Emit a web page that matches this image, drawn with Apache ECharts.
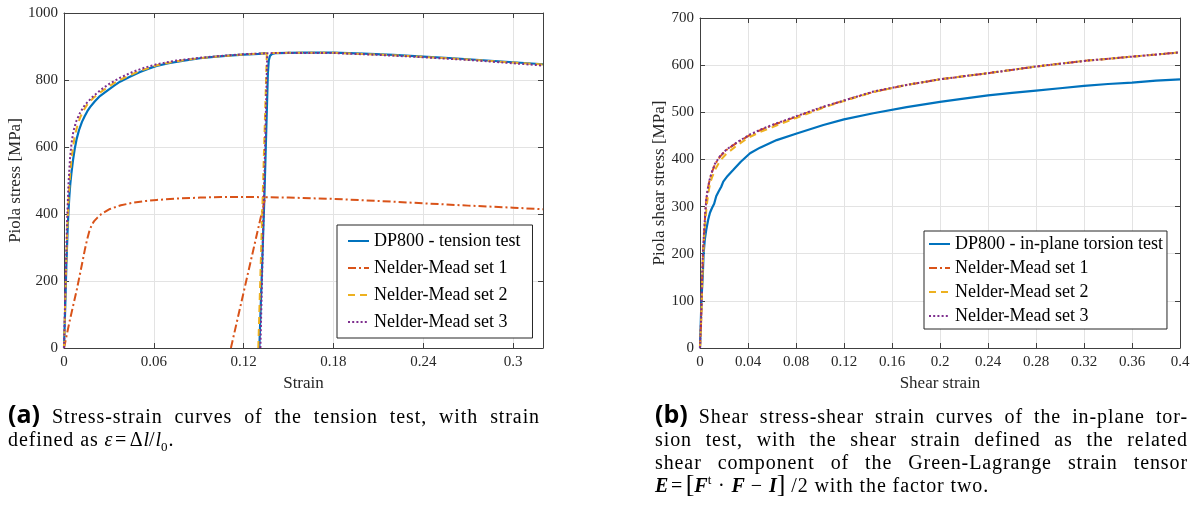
<!DOCTYPE html>
<html>
<head>
<meta charset="utf-8">
<script src="https://cdn.jsdelivr.net/npm/echarts@6/dist/echarts.min.js"></script>
<style>
  html, body { margin: 0; padding: 0; background: #fff; }
  #wrap { position: relative; width: 1196px; height: 507px; overflow: hidden; }
  #chart { position: absolute; left: 0; top: 0; width: 1196px; height: 507px; }
  .cap { position: absolute; font-family: "Liberation Serif", serif; font-size: 20px;
         letter-spacing: 0.9px; line-height: 23px; color: #000; white-space: nowrap; }
  .j { text-align: justify; text-align-last: justify; }
  .lbl { font-family: "Open Sans", sans-serif; font-weight: 700; font-size: 25px;
         line-height: 0; letter-spacing: 0; }
  .m { font-style: italic; letter-spacing: 0; }
  .bm { font-style: italic; font-weight: 700; letter-spacing: 0; }
  .br { font-size: 26px; line-height: 0; letter-spacing: 0; }
</style>
</head>
<body>
<div id="wrap">
  <div id="chart"></div>

  <div class="cap j" style="left:8px; top:405px; width:532px;"><span class="lbl">(a)</span> Stress-strain curves of the tension test, with strain</div>
  <div class="cap" style="left:8px; top:428px;">defined as <span class="m">ε</span>&#8202;=&#8202;Δ<span class="m">l</span>/<span class="m">l</span><sub style="font-size:13px;line-height:0;">0</sub>.</div>

  <div class="cap j" style="left:655px; top:405px; width:533px;"><span class="lbl">(b)</span> Shear stress-shear strain curves of the in-plane tor-</div>
  <div class="cap j" style="left:655px; top:428px; width:533px;">sion test, with the shear strain defined as the related</div>
  <div class="cap j" style="left:655px; top:451px; width:533px;">shear component of the Green-Lagrange strain tensor</div>
  <div class="cap" style="left:655px; top:474px;"><span class="bm">E</span>&#8202;=&#8202;<span class="br">[</span><span class="bm">F</span><sup style="font-size:13px;line-height:0;">t</sup> · <span class="bm">F</span> − <span class="bm">I</span><span class="br">]</span> /2 with the factor two.</div>
</div>

<script>
// ---- (a) tension test: strain vs Piola stress [MPa] ----
// '-' entries split the loading branch from the unloading/reloading branch.
const tensionTest = [
  [0,0],[0.0008,120],[0.0016,250],[0.0024,350],[0.003,410],[0.0036,455],[0.0042,490],
  [0.0049,520],[0.006,560],[0.0073,598],[0.0085,625],[0.01,650],[0.012,675],[0.0138,692],
  [0.0156,707],[0.0174,719],[0.0205,736],[0.024,752],[0.0294,770],[0.0335,783],[0.0374,795],
  [0.044,810],[0.0508,824],[0.0565,834],[0.0619,842],[0.07,850],[0.08,858],[0.0909,865],
  [0.1,869],[0.11,873],[0.12,876],[0.13,878],[0.1355,880],
  ['-','-'],
  [0.1305,0],[0.1338,442],[0.1362,820],[0.1368,858],[0.1376,872],[0.139,878],[0.142,880.5],
  [0.15,881],[0.16,881.5],[0.18,881.5],[0.2,879],[0.22,875],[0.24,870],[0.26,865],
  [0.28,859],[0.3,853],[0.32,847]
];
const tensionSet1 = [
  [0,0],[0.004,85],[0.0085,173],[0.012,250],[0.014,295],[0.0155,325],[0.017,350],
  [0.0185,367],[0.02,378],[0.0225,390],[0.025,400],[0.0307,415],[0.038,426],[0.0463,434],
  [0.055,439],[0.0619,442],[0.075,446],[0.0909,449],[0.105,451],[0.12,451],[0.1345,450],
  ['-','-'],
  [0.1115,0],[0.1345,450],[0.15,449],[0.18,445],[0.21,439],[0.24,432],[0.27,425],
  [0.3,419],[0.32,414]
];
const tensionSet2 = [
  [0,0],[0.001,170],[0.002,330],[0.003,440],[0.004,515],[0.005,565],[0.0062,605],[0.0073,635],
  [0.009,665],[0.0108,688],[0.0129,708],[0.016,730],[0.02,748],[0.024,762],[0.029,778],
  [0.034,792],[0.04,806],[0.05,826],[0.062,844],[0.075,856],[0.09,865],[0.105,871],
  [0.12,876],[0.1355,880],
  ['-','-'],
  [0.1298,0],[0.1355,880],[0.15,881],[0.18,881],[0.21,876],[0.24,869],[0.27,861],
  [0.3,852],[0.32,846]
];
const tensionSet3 = [
  [0,0],[0.001,190],[0.002,370],[0.003,490],[0.004,565],[0.005,610],[0.0062,645],[0.008,675],
  [0.0107,702],[0.014,726],[0.0196,752],[0.025,772],[0.0307,790],[0.038,808],[0.0463,825],
  [0.054,837],[0.0619,847],[0.075,858],[0.09,866],[0.105,872],[0.12,877],[0.1358,880],
  ['-','-'],
  [0.1312,0],[0.1358,880],[0.15,881],[0.18,880.5],[0.21,875],[0.24,868],[0.27,860],
  [0.3,850],[0.32,843]
];

// ---- (b) in-plane torsion test: shear strain vs Piola shear stress [MPa] ----
const torsionTest = [
  [0,0],[0.0012,100],[0.0024,160],[0.003,200],[0.004,230],[0.0053,252],[0.0068,272],
  [0.0083,287],[0.01,297],[0.0118,306],[0.0135,322],[0.0155,332],[0.0177,342],[0.0194,353],
  [0.023,365],[0.0278,378],[0.034,395],[0.0417,413],[0.05,425],[0.0639,441],[0.0806,455],
  [0.1028,473],[0.12,485],[0.1444,498],[0.1722,511],[0.2,522],[0.2167,528],[0.24,536],
  [0.26,541],[0.28,546],[0.3,551],[0.32,556],[0.34,560],[0.36,563],[0.38,567],[0.4,570]
];
const torsionSet1 = [
  [0,0],[0.0009,55],[0.0016,130],[0.0024,195],[0.0031,230],[0.0038,259],[0.0045,290],
  [0.0053,315],[0.0065,337],[0.008,356],[0.0097,371],[0.0125,390],[0.0167,406],[0.022,420],
  [0.0306,435],[0.0417,452],[0.0511,463],[0.0611,473],[0.0806,491],[0.1028,511],[0.12,525],
  [0.1444,543],[0.17,557],[0.2,570],[0.24,583],[0.28,597],[0.32,609],[0.36,618],[0.4,627]
];
const torsionSet2 = [
  [0,0],[0.001,55],[0.002,150],[0.003,215],[0.004,255],[0.0055,300],[0.007,330],[0.0085,350],
  [0.01,362],[0.013,380],[0.017,398],[0.022,412],[0.03,428],[0.04,446],[0.05,458],[0.06,468],
  [0.08,488],[0.1028,510],[0.12,524],[0.1444,543],[0.17,557],[0.2,570],[0.24,583],
  [0.28,597],[0.32,609],[0.36,618],[0.4,627]
];
const torsionSet3 = [
  [0,0],[0.0009,60],[0.0016,135],[0.0024,200],[0.0031,235],[0.0038,262],[0.0045,292],
  [0.0053,316],[0.0065,338],[0.008,357],[0.0097,372],[0.0125,391],[0.0167,407],[0.022,421],
  [0.0306,436],[0.0417,453],[0.0511,464],[0.0611,474],[0.0806,492],[0.1028,512],[0.12,525],
  [0.1444,544],[0.17,557],[0.2,570],[0.24,583],[0.28,597],[0.32,609],[0.36,618],[0.4,627]
];

// Series names and axis ranges
const nameTension = 'DP800 - tension test';
const nameTorsion = 'DP800 - in-plane torsion test';
const nameSets = ['Nelder-Mead set 1', 'Nelder-Mead set 2', 'Nelder-Mead set 3'];
const axisA = { xMin: 0, xMax: 0.32, xStep: 0.06, yMin: 0, yMax: 1000, yStep: 200 };
const axisB = { xMin: 0, xMax: 0.4, xStep: 0.04, yMin: 0, yMax: 700, yStep: 100 };

const SERIF = '"Liberation Serif", "Times New Roman", serif';
const AXIS_COLOR = '#404040';
const GRID_COLOR = '#e3e3e3';
const COLORS = { blue: '#0072BD', orange: '#D95319', yellow: '#EDB120', purple: '#7E2F8E' };

function fmt(v) { return String(+(+v).toFixed(4)); }

function mainAxis(gridIndex, pos, min, max, step, name, nameGap) {
  return {
    type: 'value', gridIndex, position: pos, min, max, interval: step,
    name, nameLocation: 'middle', nameGap,
    nameTextStyle: { fontFamily: SERIF, fontSize: 17, color: '#262626' },
    axisLine: { show: true, onZero: false, lineStyle: { color: AXIS_COLOR, width: 1 } },
    axisTick: { show: true, inside: true, length: 5, lineStyle: { color: AXIS_COLOR } },
    axisLabel: { fontFamily: SERIF, fontSize: 15, color: '#262626',
                 margin: pos === 'bottom' ? 7 : 6, showMaxLabel: (max / step) % 1 === 0,
                 formatter: fmt },
    splitLine: { show: true, lineStyle: { color: GRID_COLOR, width: 1 } }
  };
}
function boxAxis(gridIndex, pos, min, max, step) {
  return {
    type: 'value', gridIndex, position: pos, min, max, interval: step,
    axisLine: { show: true, onZero: false, lineStyle: { color: AXIS_COLOR, width: 1 } },
    axisTick: { show: true, inside: true, length: 5, lineStyle: { color: AXIS_COLOR } },
    axisLabel: { show: false }, splitLine: { show: false }
  };
}
function line(name, data, xi, yi, color, type) {
  return {
    type: 'line', name, data, xAxisIndex: xi, yAxisIndex: yi,
    symbol: 'none', showSymbol: false, connectNulls: false, animation: false,
    lineStyle: { color, width: type === 'solid' ? 2.2 : 2, type, cap: 'butt' },
    itemStyle: { color },
    emphasis: { disabled: true }
  };
}
const DASH_DOT = [8, 3, 2, 3];
const DASHED = [7, 5];
const DOTTED = [2, 2.2];

function legend(left, top, names, padding, gap) {
  return {
    left, top, orient: 'vertical', data: names, selectedMode: false,
    itemWidth: 21, itemHeight: 14, itemGap: gap, padding,
    backgroundColor: '#fff', borderColor: '#262626', borderWidth: 1, borderRadius: 0,
    itemStyle: { opacity: 0, borderWidth: 0 },
    textStyle: { fontFamily: SERIF, fontSize: 18, color: '#000' }
  };
}

const chart = echarts.init(document.getElementById('chart'), null, { renderer: 'canvas' });
chart.setOption({
  animation: false,
  backgroundColor: '#fff',
  grid: [
    { left: 64, top: 13, width: 479, height: 335, containLabel: false },
    { left: 700, top: 18, width: 480, height: 330, containLabel: false }
  ],
  xAxis: [
    mainAxis(0, 'bottom', axisA.xMin, axisA.xMax, axisA.xStep, 'Strain', 24),
    boxAxis(0, 'top', axisA.xMin, axisA.xMax, axisA.xStep),
    mainAxis(1, 'bottom', axisB.xMin, axisB.xMax, axisB.xStep, 'Shear strain', 24),
    boxAxis(1, 'top', axisB.xMin, axisB.xMax, axisB.xStep)
  ],
  yAxis: [
    mainAxis(0, 'left', axisA.yMin, axisA.yMax, axisA.yStep, 'Piola stress [MPa]', 35),
    boxAxis(0, 'right', axisA.yMin, axisA.yMax, axisA.yStep),
    mainAxis(1, 'left', axisB.yMin, axisB.yMax, axisB.yStep, 'Piola shear stress [MPa]', 28),
    boxAxis(1, 'right', axisB.yMin, axisB.yMax, axisB.yStep)
  ],
  legend: [
    legend(337, 225, [nameTension].concat(nameSets), [7, 12, 7, 10], 9),
    legend(924, 231, [nameTorsion].concat(nameSets), [4, 4, 4, 4], 6)
  ],
  series: [
    line(nameTension, tensionTest, 0, 0, COLORS.blue, 'solid'),
    line(nameSets[0], tensionSet1, 0, 0, COLORS.orange, DASH_DOT),
    line(nameSets[1], tensionSet2, 0, 0, COLORS.yellow, DASHED),
    line(nameSets[2], tensionSet3, 0, 0, COLORS.purple, DOTTED),
    line(nameTorsion, torsionTest, 2, 2, COLORS.blue, 'solid'),
    line(nameSets[0], torsionSet1, 2, 2, COLORS.orange, DASH_DOT),
    line(nameSets[1], torsionSet2, 2, 2, COLORS.yellow, DASHED),
    line(nameSets[2], torsionSet3, 2, 2, COLORS.purple, DOTTED)
  ]
});
</script>
</body>
</html>
